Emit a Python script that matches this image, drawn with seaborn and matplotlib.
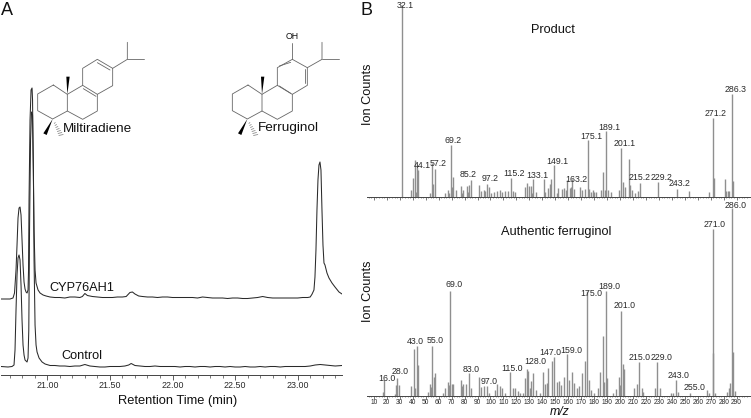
import numpy as np
import matplotlib
matplotlib.use('Agg')
import matplotlib.pyplot as plt
import seaborn as sns

# --- chromatogram traces (retention time in min, signal) ---
cyp_time = [20.630, 20.702, 20.726, 20.738, 20.750, 20.758, 20.766, 20.774, 20.782, 20.790, 20.798, 20.806,
            20.814, 20.822, 20.830, 20.838, 20.846, 20.850, 20.854, 20.862, 20.870, 20.878, 20.882, 20.886,
            20.894, 20.902, 20.910, 20.926, 20.942, 20.966, 20.990, 21.022,
            21.06, 21.10, 21.14, 21.18, 21.22, 21.26, 21.28, 21.30, 21.32, 21.36, 21.40, 21.44, 21.48, 21.52,
            21.56, 21.60, 21.63, 21.66, 21.68, 21.70, 21.73, 21.76, 21.80, 21.84, 21.88, 21.92, 21.96, 22.00,
            22.04, 22.08, 22.12, 22.16, 22.20, 22.24, 22.28, 22.32, 22.36, 22.40, 22.44, 22.48, 22.52, 22.56,
            22.60, 22.64, 22.68, 22.72, 22.76, 22.80, 22.84, 22.88, 22.92, 22.96, 23.00, 23.04, 23.08, 23.10,
            23.114, 23.130, 23.138, 23.146, 23.154, 23.162, 23.170, 23.178, 23.186, 23.194, 23.202, 23.210,
            23.218, 23.234, 23.250, 23.274, 23.298, 23.330, 23.354]
cyp_signal = [76, 76, 77, 82, 105, 130, 157, 167, 168, 160, 135, 110,
              93, 86, 83, 82, 85, 105, 175, 255, 285, 287, 275, 225,
              145, 105, 92, 85, 82, 80, 79, 78,
              77.5, 77.5, 77, 78, 78, 77.5, 78.5, 81.5, 79.5, 78.5, 78, 77.5, 77.5, 77.5,
              78, 78, 78.5, 82.5, 83, 81, 79, 78.5, 78, 78, 77.5, 78, 78, 77.5,
              77.5, 77.5, 77.5, 77.5, 77, 78, 77.5, 77, 77, 77, 76.5, 77, 77, 76.5,
              76.5, 77, 77.5, 78.5, 77.5, 77, 77, 77, 77, 77, 77, 77.5, 77.5, 78,
              80.7, 85, 98, 125, 165, 195, 210, 213, 205, 165, 130, 112,
              110, 102, 97, 92, 88, 83, 81]

control_time = [20.630, 20.686, 20.718, 20.734, 20.742, 20.750, 20.758, 20.766, 20.774, 20.782, 20.790, 20.798,
                20.806, 20.814, 20.822, 20.838, 20.846, 20.852, 20.858, 20.866, 20.874, 20.882, 20.889, 20.894,
                20.902, 20.910, 20.918, 20.934, 20.958, 20.982, 21.022,
                21.06, 21.10, 21.14, 21.18, 21.22, 21.26, 21.30, 21.34, 21.38, 21.42, 21.46, 21.50, 21.54, 21.58,
                21.62, 21.65, 21.67, 21.70, 21.74, 21.78, 21.82, 21.86, 21.90, 21.94, 21.98, 22.02, 22.06, 22.10,
                22.14, 22.18, 22.22, 22.26, 22.30, 22.34, 22.38, 22.42, 22.46, 22.50, 22.54, 22.58, 22.62, 22.66,
                22.70, 22.74, 22.78, 22.82, 22.86, 22.90, 22.94, 22.98, 23.02, 23.06, 23.10, 23.14, 23.18, 23.22,
                23.26, 23.30, 23.354]
control_signal = [8.5, 8, 8.5, 10, 25, 65, 100, 117, 120, 115, 90, 55,
                  30, 20, 15, 13, 17, 45, 145, 235, 263, 260, 205, 115,
                  50, 30, 23, 17, 13, 11, 9.5,
                  9.5, 9, 9, 8.5, 9, 9, 10.5, 9, 8.5, 8, 8, 8.5, 8.5, 8.5,
                  9, 10, 11.5, 9.5, 9, 8.5, 8.5, 9, 8.5, 8.5, 8.5, 8.5, 8, 8.5,
                  8.5, 8, 8.5, 8.5, 8, 8.5, 8.5, 8, 8.5, 8, 8, 8.5, 8, 8,
                  8.5, 8, 8.5, 8.5, 8, 8.5, 8.5, 8.5, 8.5, 8.5, 9, 10, 10.5, 10,
                  9.5, 9, 9.5]

time_ticks = [21.0, 21.5, 22.0, 22.5, 23.0]
time_labels = ['21.00', '21.50', '22.00', '22.50', '23.00']

# --- mass spectra (m/z, ion counts) ---
product_mz = [32, 38.9, 40.5, 41.5, 42.5, 43.3, 44.3, 53.6, 55.1, 55.9, 57.4, 65.2, 67.2, 68.2, 69.2, 70.3, 71.3,
              73.1, 77.3, 78.3, 79.1, 81.6, 82.4, 83.4, 85.2, 91.4, 93, 95, 96, 97.3, 99.1, 100.7, 103, 105.3,
              107.1, 109.2, 111.2, 113.8, 115.6, 117.1, 118.9, 126.9, 128.5, 129.5, 131, 132, 133.1, 134.9,
              141.3, 142.4, 144.2, 145.7, 147, 149.2, 151, 152.4, 155.5, 157, 158, 159.4, 161.2, 162, 163, 164.5,
              169.4, 171, 172.8, 175.3, 176.4, 177.6, 179, 180.2, 181.2, 185.4, 187.2, 188.5, 189.5, 190.8, 193,
              199, 201, 202.6, 203.9, 207.2, 208, 209, 211.4, 213.7, 215.5, 229.6, 243.8, 253, 269, 271.6, 272.3,
              281, 282, 283, 284.4, 286.2, 287.5]
product_counts = [192, 7, 19, 37, 5, 30, 27, 4, 34, 13, 28, 4, 7, 4, 52, 10, 20,
                  7, 11, 4, 7, 11, 5, 12, 17, 12, 6, 7, 6, 13, 10, 4, 5, 6,
                  7, 5, 6, 6, 19, 6, 5, 10, 14, 11, 11, 4, 18, 5,
                  18, 5, 9, 13, 18, 32, 4, 9, 8, 9, 7, 17, 9, 10, 18, 8,
                  10, 7, 8, 57, 8, 5, 7, 5, 5, 7, 25, 7, 66, 7, 5,
                  7, 49, 15, 10, 38, 12, 7, 4, 6, 14, 15, 8, 6, 5, 79, 19,
                  18, 6, 6, 6, 103, 16]

authentic_mz = [17.3, 18.1, 26, 27.1, 28.1, 29.1, 38.9, 41.2, 42, 43.3, 44.3, 51.5, 53.1, 54.1, 55.1, 56.2, 57.2,
                63.1, 65.2, 67.2, 68.3, 69, 70, 71.1, 77, 78, 79.1, 81.4, 83.2, 85.2, 91.4, 93, 95.3, 97.1, 99.1,
                103.2, 105.3, 107.1, 109.2, 111.2, 115.3, 117.1, 119, 121, 122.8, 124.9, 127, 128.2, 129.2, 130.3,
                131.3, 133.1, 134.9, 138, 140.8, 142.1, 143.4, 144.7, 147.2, 149, 151.7, 153.2, 154.5, 157, 158.9,
                160.7, 163, 164.3, 166.6, 168.6, 171, 172.8, 174.8, 175.8, 177.6, 179.7, 182.8, 184.9, 187.2, 188,
                189, 190, 194.9, 196.9, 199, 200, 201, 202, 203.4, 211.1, 212.9, 215, 216.8, 218, 227, 228.9, 230.7,
                239.1, 241.2, 243, 244.5, 254.3, 267.2, 269, 271.6, 272.1, 273.1, 282.4, 284.2, 285.2, 286.2, 287,
                288.5]
authentic_counts = [4, 16, 2, 11, 18, 11, 10, 47, 8, 50, 31, 4, 12, 9, 50, 19, 23,
                    3, 8, 14, 11, 105, 12, 12, 16, 10, 12, 12, 23, 8, 19, 9, 10, 10, 3,
                    6, 12, 10, 8, 3, 24, 8, 8, 5, 3, 3, 18, 27, 25, 8,
                    15, 23, 6, 3, 24, 12, 13, 28, 35, 39, 14, 15, 11, 19, 42,
                    16, 24, 13, 8, 10, 23, 35, 105, 16, 6, 3, 8, 24, 60, 14,
                    105, 18, 3, 7, 19, 11, 85, 32, 27, 8, 12, 34, 8, 4, 8, 34, 8,
                    3, 3, 16, 4, 3, 6, 3, 167, 43, 3, 4, 8, 13, 188, 44,
                    5]

# peak labels: text, m/z, counts of the label centre
product_labels = ['32.1', '44.1', '57.2', '69.2', '85.2', '97.2', '115.2', '133.1', '149.1', '163.2', '175.1',
                  '189.1', '201.1', '215.2', '229.2', '243.2', '271.2', '286.3']
product_label_mz = [34.0, 47.4, 59.8, 71.3, 83, 99.4, 117.9, 135.9, 151.6, 166, 177.6, 191.8, 203.3, 214.9, 231.9,
                    245.8, 273.6, 288.8]
product_label_counts = [191.7, 31.7, 33, 56.3, 22, 18, 23, 21.7, 36, 17.3, 60.3, 69.7, 54, 19.3, 19.3, 13.3, 84,
                        107.3]

authentic_labels = ['16.0', '28.0', '43.0', '55.0', '69.0', '83.0', '97.0', '115.0', '128.0', '147.0', '159.0',
                    '175.0', '189.0', '201.0', '215.0', '229.0', '243.0', '255.0', '271.0', '286.0']
authentic_label_mz = [20.1, 30.1, 42, 57.2, 71.6, 85.2, 99.1, 116.4, 134.6, 146.2, 162, 177.6, 191.8, 203.3, 214.9,
                      231.9, 245.5, 257.4, 273.3, 288.8]
authentic_label_counts = [17.7, 24.7, 54.7, 55.3, 111.3, 27, 14.3, 27.7, 35, 43.7, 45.3, 102.7, 109.7, 90, 38.7, 39,
                          21, 8.3, 171.7, 191]

mz_ticks = list(range(10, 300, 10))

# --- structure outlines, in page pixels x3 ---
mil_bonds = [[(160, 255), (113, 282), (113, 332), (158, 357), (202, 333), (202, 283), (160, 255)],
             [(202, 283), (248, 256), (292, 283), (292, 333), (248, 358), (202, 333)],
             [(248, 256), (248, 205), (292, 178), (338, 205), (338, 257), (292, 283)],
             [(250, 266), (288, 289)], [(292, 188), (330, 210)],
             [(338, 205), (382, 178), (382, 127)], [(382, 178), (433, 178)]]
fer_bonds = [[(744, 255), (697, 282), (697, 332), (742, 357), (786, 333), (786, 283), (744, 255)],
             [(786, 283), (832, 256), (877, 283), (877, 333), (832, 358), (786, 333)],
             [(832, 256), (832, 203), (877, 178), (922, 203), (922, 256), (877, 283)],
             [(838, 198), (872, 187)], [(916, 208), (916, 250)], [(838, 258), (872, 280)],
             [(877, 178), (877, 128)],
             [(922, 203), (966, 178), (966, 127)], [(966, 178), (1017, 178)]]
wedges = [[(202, 283), (199, 230), (209, 230)], [(158, 357), (130, 400), (140, 405)],
          [(786, 283), (783, 230), (793, 230)], [(742, 357), (714, 400), (724, 405)]]
hashes = [(158, 357, 183, 405), (742, 357, 767, 405)]

# --- figure ---
sns.set_theme(style='white')
plt.rcParams['font.family'] = ['Liberation Sans', 'DejaVu Sans']
W, H = 751, 418
INK = '#2a2a2a'
fig = plt.figure(figsize=(W / 100, H / 100), dpi=100, facecolor='white')


def px_axes(left, top, right, bottom):
    return fig.add_axes([left / W, (H - bottom) / H, (right - left) / W, (bottom - top) / H], facecolor='none')


def style_axis(ax):
    for side in ['top', 'left', 'right']:
        ax.spines[side].set_visible(False)
    ax.spines['bottom'].set_color('#444444')
    ax.spines['bottom'].set_linewidth(0.7)
    ax.set_yticks([])
    ax.set_ylabel('')
    ax.set_xlabel('')


# panel A
ax_a = px_axes(1, 0, 342, 375)
sns.lineplot(x=cyp_time, y=cyp_signal, ax=ax_a, color=INK, lw=0.75, estimator=None, sort=False, errorbar=None)
sns.lineplot(x=control_time, y=control_signal, ax=ax_a, color=INK, lw=0.75, estimator=None, sort=False, errorbar=None)
ax_a.set_xlim(20.630, 23.354)
ax_a.set_ylim(0, 375)
style_axis(ax_a)
ax_a.set_xticks(time_ticks, labels=time_labels, fontsize=6.4, color=INK)
ax_a.set_xticks(np.arange(20.7, 23.35, 0.1), minor=True)
ax_a.tick_params(axis='x', which='major', bottom=True, length=3.4, width=0.6, pad=1, color='#444444')
ax_a.tick_params(axis='x', which='minor', bottom=True, length=1.8, width=0.5, color='#444444')

# panel B
ax_p = px_axes(367, 0, 750, 197)
ax_f = px_axes(367, 200, 750, 396)
STICK = '#8f8f8f'
ax_p.vlines(product_mz, 0, product_counts, color=STICK, lw=1.0)
ax_f.vlines(authentic_mz, 0, authentic_counts, color=STICK, lw=1.0)
for ax, top in [(ax_p, 197), (ax_f, 196)]:
    ax.set_xlim(4.7, 300.3)
    ax.set_ylim(0, top)
    style_axis(ax)
    ax.set_xticks(mz_ticks)
    ax.set_xticks(np.arange(6, 300, 2), minor=True)
    ax.tick_params(axis='x', which='major', bottom=True, length=1.8, width=0.5, pad=0.6, color='#444444')
    ax.tick_params(axis='x', which='minor', bottom=True, length=1.0, width=0.4, color='#444444')
ax_p.set_xticklabels([])
ax_f.set_xticklabels([str(m) for m in mz_ticks], fontsize=4.8, color=INK)

for text, x, y in zip(product_labels, product_label_mz, product_label_counts):
    ax_p.text(x, y, text, fontsize=6.3, color=INK, ha='center', va='center', clip_on=False)
for text, x, y in zip(authentic_labels, authentic_label_mz, authentic_label_counts):
    ax_f.text(x, y, text, fontsize=6.3, color=INK, ha='center', va='center', clip_on=False)

# page overlay for structures and captions, in pixels
page = fig.add_axes([0, 0, 1, 1], facecolor='none')
page.set_xlim(0, W)
page.set_ylim(H, 0)
page.axis('off')

for bonds in [mil_bonds, fer_bonds]:
    for bond in bonds:
        pts = np.array(bond) / 3
        page.plot(pts[:, 0], pts[:, 1], color='#666666', lw=0.6, solid_joinstyle='miter')
for wedge in wedges:
    page.fill(*(np.array(wedge).T / 3), color='black', lw=0)
for x0, y0, x1, y1 in hashes:
    for f in np.linspace(0.25, 1, 7):
        cx, cy = (x0 + (x1 - x0) * f) / 3, (y0 + (y1 - y0) * f) / 3
        half = 2.2 * f
        page.plot([cx - half, cx + half], [cy + 0.4, cy - 0.4], color='#666666', lw=0.45)

page.text(1, 15, 'A', fontsize=13, color='#111111', ha='left', va='baseline')
page.text(361, 15, 'B', fontsize=13, color='#111111', ha='left', va='baseline')
page.text(63, 128.5, 'Miltiradiene', fontsize=9.7, color='#111111', ha='left', va='center')
page.text(258, 128.5, 'Ferruginol', fontsize=9.7, color='#111111', ha='left', va='center')
page.text(292, 36.5, 'OH', fontsize=6.3, color='#111111', ha='center', va='center')
page.text(49, 288, 'CYP76AH1', fontsize=9.2, color='#111111', ha='left', va='center')
page.text(61, 356, 'Control', fontsize=9.2, color='#111111', ha='left', va='center')
page.text(177.5, 401, 'Retention Time (min)', fontsize=9.25, color='#111111', ha='center', va='center')
page.text(552.7, 30, 'Product', fontsize=9.2, color='#111111', ha='center', va='center')
page.text(555.7, 231.5, 'Authentic ferruginol', fontsize=9.2, color='#111111', ha='center', va='center')
page.text(368, 94, 'Ion Counts', fontsize=9.2, color='#111111', rotation=90, ha='center', va='center')
page.text(368, 291, 'Ion Counts', fontsize=9.2, color='#111111', rotation=90, ha='center', va='center')
page.text(560, 412, 'm/z', fontsize=8.8, color='#111111', style='italic', ha='center', va='center')

fig.savefig('out.png', dpi=100)
